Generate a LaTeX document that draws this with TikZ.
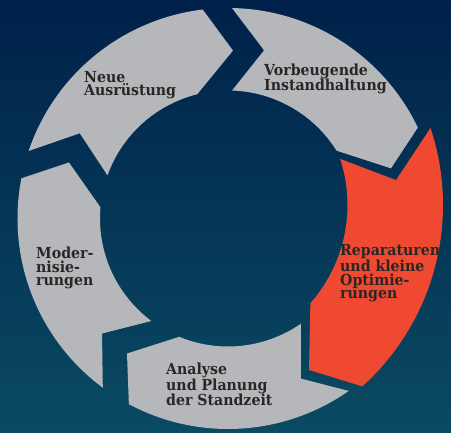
\documentclass[tikz,border=0pt]{standalone}
\usepackage{fontspec}
\usepackage{tikz}
\usetikzlibrary{positioning}
\newfontfamily\phasefont[FakeStretch=0.93]{DejaVu Serif}

\definecolor{bgtop}{HTML}{00214A}
\definecolor{bgbottom}{HTML}{0A4A62}
\definecolor{ringgray}{HTML}{B6B7BA}
\definecolor{ringred}{HTML}{EF4A31}
\definecolor{phaseink}{HTML}{2B2626}

\begin{document}
\begin{tikzpicture}[x=1pt, y=1pt]

    % Define styles
    \tikzstyle{segment} = [fill=ringgray]
    \tikzstyle{active} = [fill=ringred]
    \tikzstyle{phasetext} = [text=phaseink, align=left, inner sep=0pt, anchor=base west, font=\phasefont\bfseries\fontsize{15.2}{13.7}\selectfont]

    % Background
    \useasboundingbox (0,0) rectangle (451,433);
    \shade[top color=bgtop, bottom color=bgbottom] (0,0) rectangle (451,433);

    % Grey ring segments
    \begin{scope}[shift={(228,214.5)}]
        % Neue Ausruestung
        \fill[segment] (161.3:210.5) -- (150.1:171) -- (160.3:128)
            arc[start angle=160.3, end angle=103.9, radius=128pt]
            -- (88.3:168) -- (96.9:210.5)
            arc[start angle=96.9, end angle=161.3, radius=210.5pt] -- cycle;
        % Vorbeugende Instandhaltung
        \fill[segment] (88.9:210.5) -- (77.9:172) -- (88.2:128)
            arc[start angle=88.2, end angle=32.0, radius=128pt]
            -- (17.1:170.5) -- (25.6:210.5)
            arc[start angle=25.6, end angle=88.9, radius=210.5pt] -- cycle;
        % Analyse
        \fill[segment] (-55:210.5) -- (-65.5:176) -- (-55.3:128)
            arc[start angle=-55.3, end angle=-112.4, radius=128pt]
            -- (-126.8:168.6) -- (-118.1:210.5)
            arc[start angle=-118.1, end angle=-55, radius=210.5pt] -- cycle;
        % Modernisierungen
        \fill[segment] (-126.5:210.5) -- (-137.6:170.6) -- (-126.8:128)
            arc[start angle=-126.8, end angle=-185, radius=128pt]
            -- (160.6:168.6) -- (169.0:210.5)
            arc[start angle=169.0, end angle=233.5, radius=210.5pt] -- cycle;
    \end{scope}

    % Highlighted segment, a bit larger
    \begin{scope}[shift={(199,228)}]
        \fill[active] (18.4:244) -- (7.2:198.6) -- (18.1:148.5)
            arc[start angle=18.1, end angle=-41.4, radius=148.5pt]
            -- (-56.3:198.3) -- (-48:244)
            arc[start angle=-48, end angle=18.4, radius=244pt] -- cycle;
    \end{scope}

    % Labels (anchored at the last line)
    \node[phasetext] (neu) at (84,337) {Neue\\Ausrüstung};
    \node[phasetext] (vorb) at (264,342) {Vorbeugende\\Instandhaltung};
    \node[phasetext] (rep) at (340,134) {Reparaturen\\und kleine\\Optimie-\\rungen};
    \node[phasetext] (mod) at (36,147) {Moder-\\nisie-\\rungen};
    \node[phasetext] (ana) at (166,27) {Analyse\\und Planung\\der Standzeit};

\end{tikzpicture}
\end{document}
